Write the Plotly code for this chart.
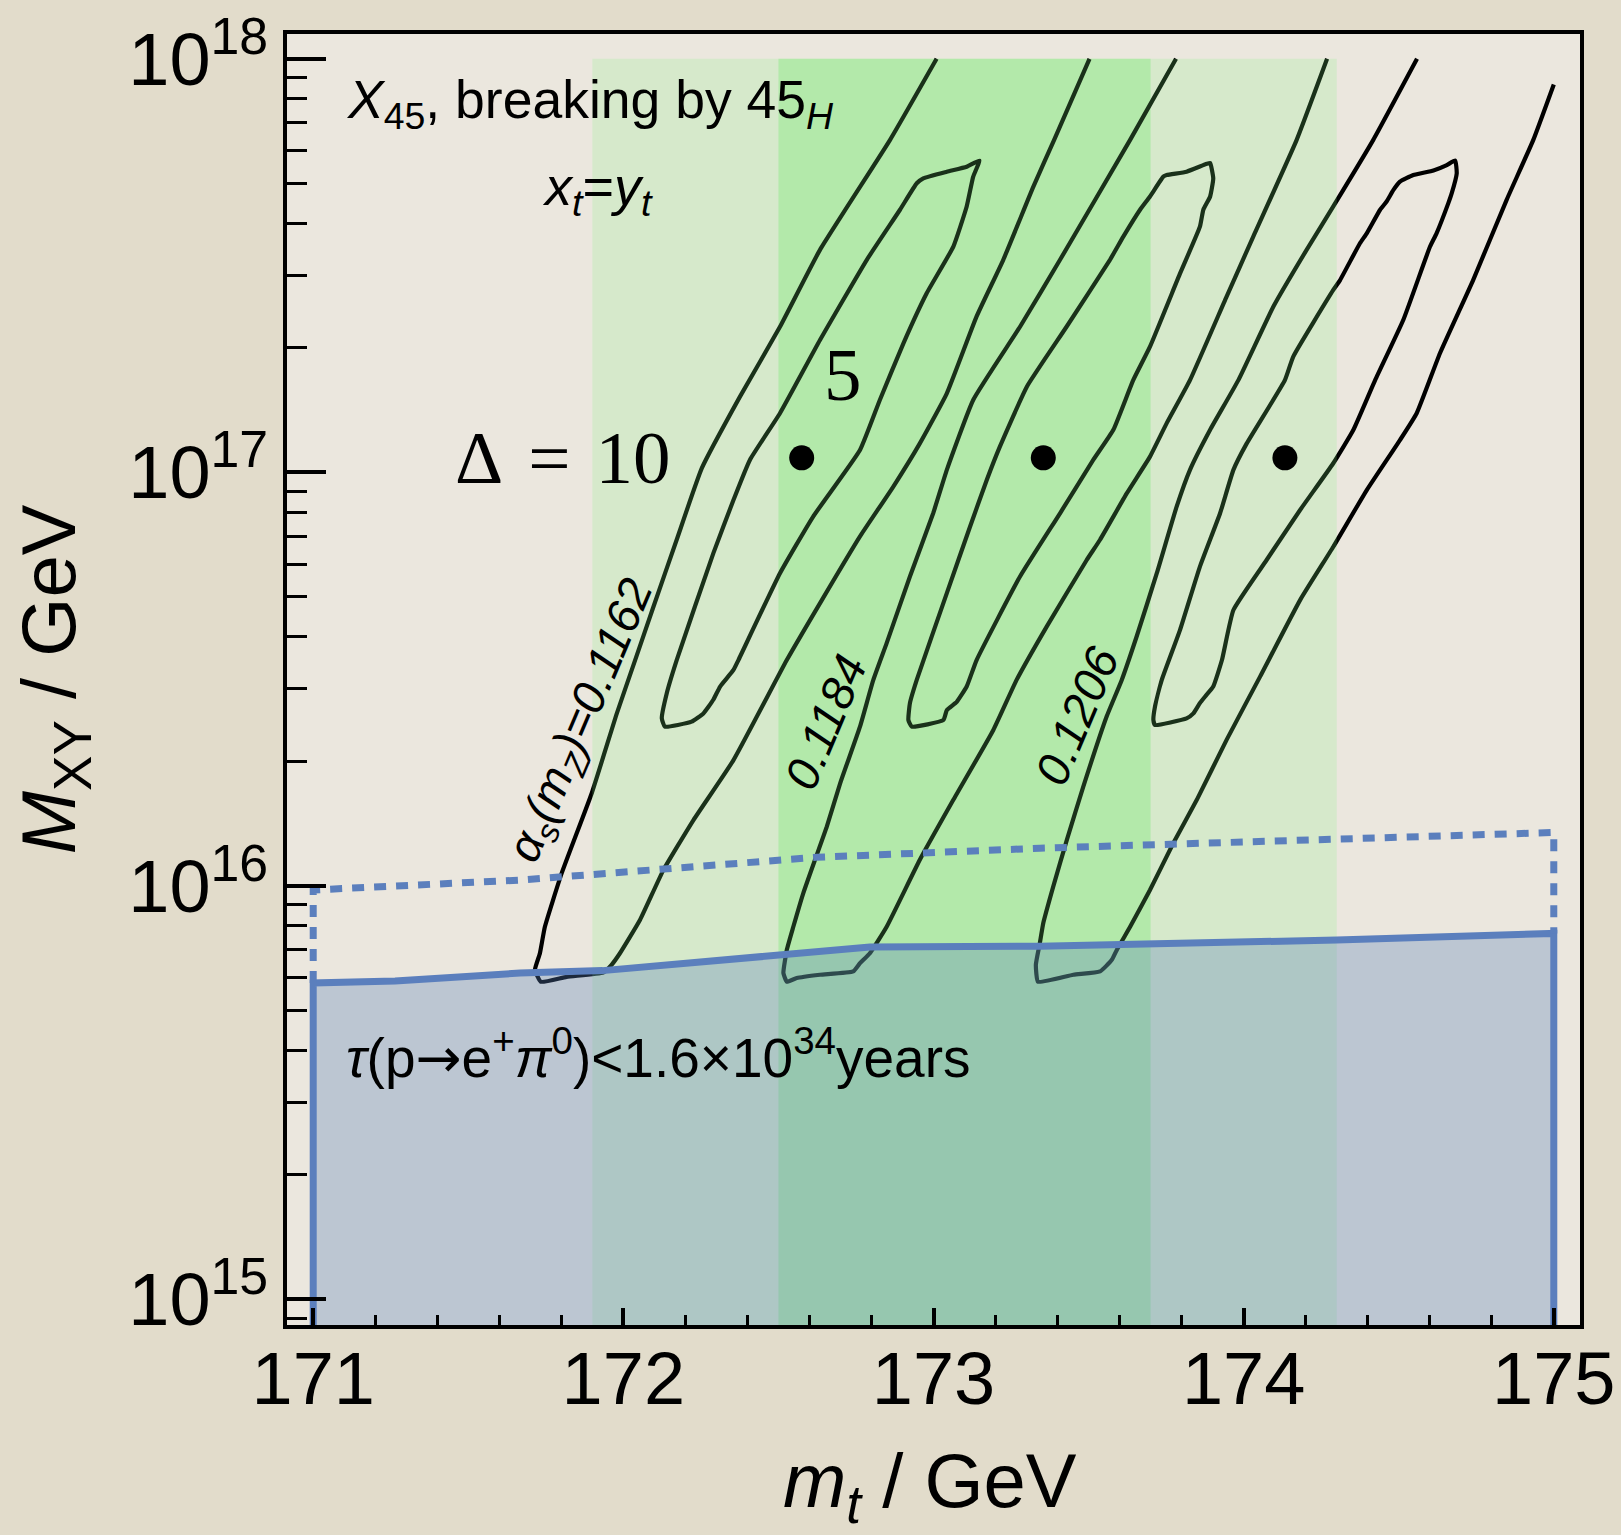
import plotly.graph_objects as go

# ---------------- data (m_t in GeV, log10 of M_XY in GeV) ----------------
x_range = [170.9155, 175.0845]
logy_range = [14.938, 18.060]

x_tick_vals = [171, 172, 173, 174, 175]
x_tick_text = ["171", "172", "173", "174", "175"]
y_tick_vals = [1e15, 1e16, 1e17, 1e18]
y_tick_text = ["10<sup>15</sup>", "10<sup>16</sup>", "10<sup>17</sup>", "10<sup>18</sup>"]
y_minor_vals = [k * 10.0 ** e for e in (14, 15, 16, 17) for k in range(2, 10)]

band_light = [171.9, 174.3]
band_dark = [172.5, 173.7]
band_top = 1e18
band_bottom = 1e14

# Delta = 10 contours (open U shapes) for alpha_s(mZ) = 0.1162, 0.1184, 0.1206
d10_1162_mt = [173.010, 172.860, 172.634, 172.505, 172.376, 172.253, 172.172, 172.097, 172.038, 171.979,
               171.898, 171.801, 171.747, 171.731, 171.715, 171.734, 171.817, 171.935, 171.962, 171.989,
               172.054, 172.129, 172.226, 172.355, 172.527, 172.640, 172.763, 172.870, 172.956, 173.043,
               173.139, 173.225, 173.322, 173.389, 173.503]
d10_1162_logM = [18.000, 17.804, 17.538, 17.352, 17.183, 17.010, 16.837, 16.675, 16.546, 16.417,
                 16.224, 16.030, 15.901, 15.837, 15.797, 15.768, 15.780, 15.790, 15.809, 15.837,
                 15.918, 16.038, 16.159, 16.304, 16.546, 16.691, 16.845, 16.965, 17.070, 17.191,
                 17.377, 17.514, 17.691, 17.804, 18.000]

d10_1184_mt = [173.782, 173.634, 173.408, 173.279, 173.128, 173.043, 172.999, 172.924, 172.849, 172.806,
               172.763, 172.699, 172.656, 172.618, 172.580, 172.548, 172.527, 172.516, 172.527, 172.559,
               172.634, 172.741, 172.763, 172.795, 172.849, 172.956, 173.064, 173.193, 173.268, 173.365,
               173.494, 173.537, 173.623, 173.698, 173.752, 173.827, 173.945, 174.031, 174.171, 174.269]
d10_1184_logM = [18.000, 17.804, 17.514, 17.352, 17.175, 17.006, 16.901, 16.748, 16.587, 16.498,
                 16.385, 16.248, 16.143, 16.063, 15.982, 15.901, 15.845, 15.789, 15.768, 15.777,
                 15.785, 15.793, 15.813, 15.837, 15.901, 16.063, 16.208, 16.377, 16.498, 16.627,
                 16.788, 16.837, 16.949, 17.038, 17.119, 17.223, 17.425, 17.570, 17.804, 18.000]

d10_1206_mt = [174.559, 174.418, 174.289, 174.203, 174.096, 173.983, 173.892, 173.827, 173.784, 173.720,
               173.655, 173.607, 173.558, 173.483, 173.430, 173.386, 173.354, 173.343, 173.330, 173.337,
               173.451, 173.537, 173.575, 173.591, 173.634, 173.698, 173.773, 173.849, 173.945, 174.053,
               174.182, 174.289, 174.397, 174.504, 174.558, 174.633, 174.740, 174.848, 174.934, 175.000]
d10_1206_logM = [18.000, 17.804, 17.643, 17.538, 17.401, 17.223, 17.103, 17.006, 16.917, 16.756,
                 16.603, 16.498, 16.409, 16.240, 16.111, 15.998, 15.910, 15.862, 15.809, 15.768,
                 15.785, 15.793, 15.821, 15.845, 15.901, 15.990, 16.103, 16.208, 16.353, 16.506,
                 16.691, 16.820, 16.957, 17.078, 17.143, 17.288, 17.465, 17.659, 17.804, 17.938]

# Delta = 5 closed contours
d5_1162_mt = [172.134, 172.124, 172.140, 172.172, 172.290, 172.355, 172.408, 172.505, 172.634, 172.785,
              172.892, 172.946, 172.967, 173.043, 173.107, 173.148, 173.128, 173.107, 173.064, 172.978,
              172.903, 172.827, 172.763, 172.612, 172.505, 172.371, 172.355, 172.312, 172.290, 172.258,
              172.220, 172.134]
d5_1162_logM = [16.385, 16.405, 16.466, 16.546, 16.804, 16.933, 17.030, 17.143, 17.320, 17.514,
                17.635, 17.699, 17.711, 17.727, 17.739, 17.754, 17.715, 17.643, 17.546, 17.433,
                17.312, 17.175, 17.054, 16.893, 16.756, 16.546, 16.522, 16.482, 16.450, 16.417,
                16.397, 16.385]

d5_1184_mt = [172.930, 172.919, 172.924, 172.946, 173.043, 173.118, 173.172, 173.214, 173.301, 173.429,
              173.569, 173.612, 173.666, 173.698, 173.741, 173.752, 173.816, 173.881, 173.892, 173.902,
              173.892, 173.870, 173.859, 173.795, 173.698, 173.644, 173.580, 173.515, 173.408, 173.279,
              173.139, 173.107, 173.075, 173.043, 173.032, 172.930]
d5_1184_logM = [16.385, 16.401, 16.442, 16.498, 16.708, 16.869, 16.982, 17.062, 17.207, 17.352,
                17.514, 17.570, 17.635, 17.667, 17.715, 17.719, 17.727, 17.746, 17.748, 17.711,
                17.667, 17.635, 17.594, 17.481, 17.304, 17.223, 17.103, 17.030, 16.901, 16.748,
                16.546, 16.482, 16.445, 16.425, 16.401, 16.385]

d5_1206_mt = [173.714, 173.709, 173.714, 173.736, 173.795, 173.859, 173.924, 173.967, 174.010, 174.133,
              174.160, 174.289, 174.311, 174.375, 174.397, 174.440, 174.461, 174.483, 174.504, 174.547,
              174.612, 174.655, 174.682, 174.687, 174.671, 174.660, 174.622, 174.601, 174.515, 174.424,
              174.354, 174.289, 174.182, 174.074, 173.967, 173.930, 173.902, 173.876, 173.859, 173.838,
              173.816, 173.714]
d5_1206_logM = [16.389, 16.401, 16.433, 16.498, 16.619, 16.772, 16.901, 17.006, 17.070, 17.223,
                17.280, 17.441, 17.465, 17.554, 17.578, 17.635, 17.655, 17.683, 17.703, 17.719,
                17.730, 17.743, 17.754, 17.723, 17.675, 17.651, 17.578, 17.546, 17.369, 17.223,
                17.103, 17.022, 16.909, 16.788, 16.667, 16.546, 16.482, 16.458, 16.442, 16.417,
                16.405, 16.389]

# best-fit points
best_mt = [172.575, 173.354, 174.133]
best_logM = [17.035, 17.035, 17.035]

# proton decay bound (solid) and future reach (dotted)
pdecay_mt = [171.000, 171.264, 171.667, 171.933, 172.527, 172.795, 173.343, 174.300, 175.000]
pdecay_logM = [15.765, 15.770, 15.789, 15.795, 15.837, 15.852, 15.854, 15.869, 15.885]
future_mt = [171.000, 171.667, 172.623, 173.343, 174.300, 175.000]
future_logM = [15.990, 16.014, 16.069, 16.091, 16.115, 16.129]

# ---------------- styling ----------------
SANS = "Liberation Sans, Arial, sans-serif"
SERIF = "Liberation Serif, Times New Roman, serif"
BLUE = "#5b7fbd"


def p10(v):
    return [10.0 ** a for a in v]


fig = go.Figure()

# darker (1 sigma) band, under the contours
fig.add_trace(go.Scatter(
    x=[band_dark[0], band_dark[1], band_dark[1], band_dark[0], band_dark[0]],
    y=[band_bottom, band_bottom, band_top, band_top, band_bottom],
    fill="toself", fillcolor="rgb(192,230,181)", line=dict(width=0),
    mode="lines", hoverinfo="skip"))

# contours
for mt, lm in [(d10_1162_mt, d10_1162_logM), (d10_1184_mt, d10_1184_logM), (d10_1206_mt, d10_1206_logM),
               (d5_1162_mt, d5_1162_logM), (d5_1184_mt, d5_1184_logM), (d5_1206_mt, d5_1206_logM)]:
    fig.add_trace(go.Scatter(x=mt, y=p10(lm), mode="lines",
                             line=dict(color="black", width=4.2, shape="spline", smoothing=0.4),
                             hoverinfo="skip"))

# lighter (2 sigma) band, translucent over the contours
fig.add_trace(go.Scatter(
    x=[band_light[0], band_light[1], band_light[1], band_light[0], band_light[0]],
    y=[band_bottom, band_bottom, band_top, band_top, band_bottom],
    fill="toself", fillcolor="rgba(128,244,128,0.2)", line=dict(width=0),
    mode="lines", hoverinfo="skip"))

# excluded region
fig.add_trace(go.Scatter(
    x=[pdecay_mt[0]] + pdecay_mt + [pdecay_mt[-1], pdecay_mt[0]],
    y=[band_bottom] + p10(pdecay_logM) + [band_bottom, band_bottom],
    fill="toself", fillcolor="rgba(91,127,186,0.32)",
    line=dict(color=BLUE, width=7), mode="lines", hoverinfo="skip"))

# future sensitivity (dotted box)
fig.add_trace(go.Scatter(
    x=[future_mt[0]] + future_mt + [future_mt[-1]],
    y=[10 ** pdecay_logM[0]] + p10(future_logM) + [10 ** pdecay_logM[-1]],
    mode="lines", line=dict(color=BLUE, width=7, dash="12px,10px"), hoverinfo="skip"))

# best fit points
fig.add_trace(go.Scatter(x=best_mt, y=p10(best_logM), mode="markers",
                         marker=dict(color="black", size=25), hoverinfo="skip"))

# annotations: y given as log10(M) (log axis convention)
annotations = [
    dict(x=171.099, y=17.891, text="<i>X</i><sub>45</sub>, breaking by 45<sub><i>H</i></sub>",
         xanchor="left", yanchor="middle", font=dict(family=SANS, size=53.5)),
    dict(x=171.918, y=17.683, text="<i>x</i><sub><i>t</i></sub>=<i>y</i><sub><i>t</i></sub>",
         xanchor="center", yanchor="middle", font=dict(family=SANS, size=54)),
    dict(x=171.804, y=17.037, text="\u0394\u2004=\u200410",
         xanchor="center", yanchor="middle", font=dict(family=SERIF, size=75)),
    dict(x=172.709, y=17.236, text="5",
         xanchor="center", yanchor="middle", font=dict(family=SERIF, size=75)),
    dict(x=171.869, y=16.398,
         text="<i>\u03b1</i><sub><i>s</i></sub><i>(m</i><sub><i>Z</i></sub><i>)=0.1162</i>",
         textangle=-67, xanchor="center", yanchor="middle", font=dict(family=SANS, size=47)),
    dict(x=172.650, y=16.396, text="<i>0.1184</i>", textangle=-67,
         xanchor="center", yanchor="middle", font=dict(family=SANS, size=47)),
    dict(x=173.463, y=16.411, text="<i>0.1206</i>", textangle=-67,
         xanchor="center", yanchor="middle", font=dict(family=SANS, size=47)),
    dict(x=171.099, y=15.592,
         text=("<i>\u03c4</i>(p<span style=\"font-family:'DejaVu Sans'\">\u2192</span>e<sup>+</sup>"
               "<i>\u03c0</i><sup>0</sup>)&lt;1.6\u00d710<sup>34</sup>years"),
         xanchor="left", yanchor="middle", font=dict(family=SANS, size=55)),
]
for a in annotations:
    a.update(xref="x", yref="y", showarrow=False)

# x-axis title placed below the tick labels (paper coordinates)
annotations.append(dict(x=0.497, y=-0.125, xref="paper", yref="paper", showarrow=False,
                        text="<i>m</i><sub><i>t</i></sub> / GeV", xanchor="center", yanchor="middle",
                        font=dict(family=SANS, size=76)))
fig.update_layout(annotations=annotations)

fig.update_layout(
    width=1621, height=1535,
    margin=dict(l=287, r=41, t=34, b=210, autoexpand=False),
    paper_bgcolor="#e2dccb", plot_bgcolor="#ebe7de",
    showlegend=False,
    font=dict(family=SANS, color="black"),
)
fig.update_xaxes(
    range=x_range, tickmode="array", tickvals=x_tick_vals, ticktext=x_tick_text,
    ticks="inside", ticklen=17, tickwidth=3.5, tickcolor="black",
    minor=dict(tick0=171, dtick=0.2, ticks="inside", ticklen=10, tickwidth=3, tickcolor="black"),
    showline=True, mirror=True, linewidth=4, linecolor="black",
    showgrid=False, zeroline=False, automargin=False,
    tickfont=dict(family=SANS, size=74), ticklabelstandoff=-14,
)
fig.update_yaxes(
    type="log", range=logy_range, tickmode="array", tickvals=y_tick_vals, ticktext=y_tick_text,
    ticks="inside", ticklen=39, tickwidth=3.5, tickcolor="black",
    minor=dict(tickmode="array", tickvals=y_minor_vals, ticks="inside", ticklen=20, tickwidth=3,
               tickcolor="black"),
    showline=True, mirror=True, linewidth=4, linecolor="black",
    showgrid=False, zeroline=False, automargin=False,
    tickfont=dict(family=SANS, size=74), ticklabelstandoff=0,
    title=dict(text="<i>M</i><sub>XY</sub> / GeV", font=dict(family=SANS, size=76), standoff=29),
)

fig.write_html("out.html")
